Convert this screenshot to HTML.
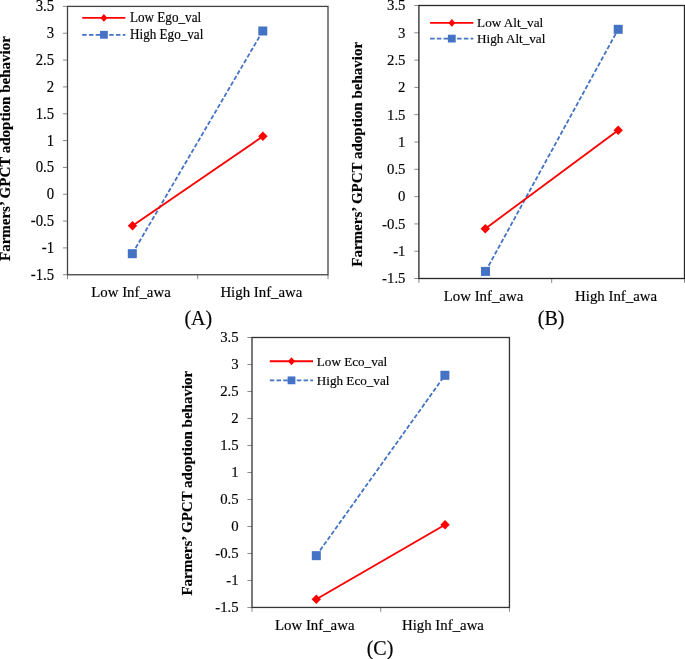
<!DOCTYPE html>
<html lang="en"><head><meta charset="utf-8"><title>Figure</title>
<style>
html,body{margin:0;padding:0;background:#fff;}
body{width:685px;height:659px;overflow:hidden;}
svg{display:block;font-family:"Liberation Serif",serif;fill:#000;}
text{stroke:#000;stroke-width:0.16px;paint-order:stroke fill;}
.t{font-size:15px;}
.x{font-size:14.85px;}
.l{font-size:13.15px;}
.c{font-size:20px;}
.y{font-size:15px;font-weight:bold;}
</style></head><body>
<svg width="685" height="659" viewBox="0 0 685 659">
<rect width="685" height="659" fill="#fff"/>
<g>
<path d="M62.90 6.40H67.50M62.90 33.23H67.50M62.90 60.07H67.50M62.90 86.91H67.50M62.90 113.74H67.50M62.90 140.58H67.50M62.90 167.41H67.50M62.90 194.25H67.50M62.90 221.08H67.50M62.90 247.92H67.50M62.90 274.75H67.50M67.50 274.75V279.15M197.75 274.75V279.15M328.00 274.75V279.15" stroke="#8a8a8a" stroke-width="1" fill="none"/>
<rect x="67.50" y="6.40" width="260.50" height="268.35" fill="none" stroke="#444" stroke-width="1.3"/>
<text class="t" transform="translate(54.10 11.35) scale(0.985 1.055)" text-anchor="end">3.5</text>
<text class="t" transform="translate(54.10 38.19) scale(0.985 1.055)" text-anchor="end">3</text>
<text class="t" transform="translate(54.10 65.02) scale(0.985 1.055)" text-anchor="end">2.5</text>
<text class="t" transform="translate(54.10 91.86) scale(0.985 1.055)" text-anchor="end">2</text>
<text class="t" transform="translate(54.10 118.69) scale(0.985 1.055)" text-anchor="end">1.5</text>
<text class="t" transform="translate(54.10 145.53) scale(0.985 1.055)" text-anchor="end">1</text>
<text class="t" transform="translate(54.10 172.36) scale(0.985 1.055)" text-anchor="end">0.5</text>
<text class="t" transform="translate(54.10 199.19) scale(0.985 1.055)" text-anchor="end">0</text>
<text class="t" transform="translate(54.10 226.03) scale(0.985 1.055)" text-anchor="end">-0.5</text>
<text class="t" transform="translate(54.10 252.87) scale(0.985 1.055)" text-anchor="end">-1</text>
<text class="t" transform="translate(54.10 279.70) scale(0.985 1.055)" text-anchor="end">-1.5</text>
<text class="x" x="131.00" y="296.90" text-anchor="middle">Low Inf_awa</text>
<text class="x" x="261.40" y="296.90" text-anchor="middle">High Inf_awa</text>
<text class="c" x="198.30" y="325.00" text-anchor="middle">(A)</text>
<text class="y" transform="translate(10.10 148.60) rotate(-90)" text-anchor="middle">Farmers’ GPCT adoption behavior</text>
<path d="M132.3 253.7L262.8 31.0" stroke="#4472C4" stroke-width="1.8" stroke-dasharray="4.4 2.1" fill="none"/>
<rect x="127.80" y="249.20" width="9" height="9" fill="#4472C4"/>
<rect x="258.30" y="26.50" width="9" height="9" fill="#4472C4"/>
<path d="M132.5 225.8L262.9 136.3" stroke="#FF0000" stroke-width="1.9" fill="none"/>
<path d="M127.80 225.8L132.5 221.10L137.20 225.8L132.5 230.50Z" fill="#FF0000"/>
<path d="M258.20 136.3L262.9 131.60L267.60 136.3L262.9 141.00Z" fill="#FF0000"/>
<path d="M82.2 17.9H125.40" stroke="#FF0000" stroke-width="1.8" fill="none"/>
<path d="M100.40 17.9L103.90 14.00L107.40 17.9L103.90 21.80Z" fill="#FF0000"/>
<path d="M82.2 34.8H125.40" stroke="#4472C4" stroke-width="1.7" stroke-dasharray="4.5 2.25" fill="none"/>
<rect x="100.00" y="30.90" width="7.8" height="7.8" fill="#4472C4"/>
<text class="l" transform="translate(130.00 21.70) scale(1 1.03)">Low Ego_val</text>
<text class="l" transform="translate(130.00 38.70) scale(1 1.03)">High Ego_val</text>
</g>
<g>
<path d="M414.30 5.50H418.90M414.30 32.80H418.90M414.30 60.10H418.90M414.30 87.40H418.90M414.30 114.70H418.90M414.30 142.00H418.90M414.30 169.30H418.90M414.30 196.60H418.90M414.30 223.90H418.90M414.30 251.20H418.90M414.30 278.50H418.90M418.90 278.50V282.90M551.70 278.50V282.90M684.50 278.50V282.90" stroke="#8a8a8a" stroke-width="1" fill="none"/>
<rect x="418.90" y="5.50" width="265.60" height="273.00" fill="none" stroke="#262626" stroke-width="1.3"/>
<text class="t" transform="translate(405.50 10.30) scale(0.985 1.04)" text-anchor="end">3.5</text>
<text class="t" transform="translate(405.50 37.60) scale(0.985 1.04)" text-anchor="end">3</text>
<text class="t" transform="translate(405.50 64.90) scale(0.985 1.04)" text-anchor="end">2.5</text>
<text class="t" transform="translate(405.50 92.20) scale(0.985 1.04)" text-anchor="end">2</text>
<text class="t" transform="translate(405.50 119.50) scale(0.985 1.04)" text-anchor="end">1.5</text>
<text class="t" transform="translate(405.50 146.80) scale(0.985 1.04)" text-anchor="end">1</text>
<text class="t" transform="translate(405.50 174.10) scale(0.985 1.04)" text-anchor="end">0.5</text>
<text class="t" transform="translate(405.50 201.40) scale(0.985 1.04)" text-anchor="end">0</text>
<text class="t" transform="translate(405.50 228.70) scale(0.985 1.04)" text-anchor="end">-0.5</text>
<text class="t" transform="translate(405.50 256.00) scale(0.985 1.04)" text-anchor="end">-1</text>
<text class="t" transform="translate(405.50 283.30) scale(0.985 1.04)" text-anchor="end">-1.5</text>
<text class="x" x="483.50" y="301.05" text-anchor="middle">Low Inf_awa</text>
<text class="x" x="616.10" y="301.05" text-anchor="middle">High Inf_awa</text>
<text class="c" x="551.10" y="324.60" text-anchor="middle">(B)</text>
<text class="y" transform="translate(361.80 154.30) rotate(-90)" text-anchor="middle">Farmers’ GPCT adoption behavior</text>
<path d="M485.5 271.4L618.2 29.3" stroke="#4472C4" stroke-width="1.8" stroke-dasharray="4.4 2.1" fill="none"/>
<rect x="481.00" y="266.90" width="9" height="9" fill="#4472C4"/>
<rect x="613.70" y="24.80" width="9" height="9" fill="#4472C4"/>
<path d="M485.3 228.7L618.2 130.3" stroke="#FF0000" stroke-width="1.9" fill="none"/>
<path d="M480.60 228.7L485.3 224.00L490.00 228.7L485.3 233.40Z" fill="#FF0000"/>
<path d="M613.50 130.3L618.2 125.60L622.90 130.3L618.2 135.00Z" fill="#FF0000"/>
<path d="M430.1 22.9H473.30" stroke="#FF0000" stroke-width="1.8" fill="none"/>
<path d="M448.30 22.9L451.80 19.00L455.30 22.9L451.80 26.80Z" fill="#FF0000"/>
<path d="M430.1 38.6H473.30" stroke="#4472C4" stroke-width="1.7" stroke-dasharray="4.5 2.25" fill="none"/>
<rect x="447.90" y="34.70" width="7.8" height="7.8" fill="#4472C4"/>
<text class="l" transform="translate(477.10 26.95) scale(1 1)">Low Alt_val</text>
<text class="l" transform="translate(477.10 42.80) scale(1 1)">High Alt_val</text>
</g>
<g>
<path d="M247.40 337.50H252.00M247.40 364.50H252.00M247.40 391.49H252.00M247.40 418.49H252.00M247.40 445.48H252.00M247.40 472.48H252.00M247.40 499.47H252.00M247.40 526.47H252.00M247.40 553.46H252.00M247.40 580.46H252.00M247.40 607.45H252.00M252.00 607.45V611.85M380.73 607.45V611.85M509.45 607.45V611.85" stroke="#8a8a8a" stroke-width="1" fill="none"/>
<rect x="252.00" y="337.50" width="257.45" height="269.95" fill="none" stroke="#333" stroke-width="1.3"/>
<text class="t" transform="translate(238.60 342.25) scale(0.985 1.02)" text-anchor="end">3.5</text>
<text class="t" transform="translate(238.60 369.25) scale(0.985 1.02)" text-anchor="end">3</text>
<text class="t" transform="translate(238.60 396.24) scale(0.985 1.02)" text-anchor="end">2.5</text>
<text class="t" transform="translate(238.60 423.24) scale(0.985 1.02)" text-anchor="end">2</text>
<text class="t" transform="translate(238.60 450.23) scale(0.985 1.02)" text-anchor="end">1.5</text>
<text class="t" transform="translate(238.60 477.23) scale(0.985 1.02)" text-anchor="end">1</text>
<text class="t" transform="translate(238.60 504.22) scale(0.985 1.02)" text-anchor="end">0.5</text>
<text class="t" transform="translate(238.60 531.22) scale(0.985 1.02)" text-anchor="end">0</text>
<text class="t" transform="translate(238.60 558.21) scale(0.985 1.02)" text-anchor="end">-0.5</text>
<text class="t" transform="translate(238.60 585.21) scale(0.985 1.02)" text-anchor="end">-1</text>
<text class="t" transform="translate(238.60 612.20) scale(0.985 1.02)" text-anchor="end">-1.5</text>
<text class="x" x="314.75" y="629.95" text-anchor="middle">Low Inf_awa</text>
<text class="x" x="442.95" y="629.95" text-anchor="middle">High Inf_awa</text>
<text class="c" x="380.00" y="654.50" text-anchor="middle">(C)</text>
<text class="y" transform="translate(192.20 483.20) rotate(-90)" text-anchor="middle">Farmers’ GPCT adoption behavior</text>
<path d="M316.3 555.65L444.9 375.3" stroke="#4472C4" stroke-width="1.8" stroke-dasharray="4.4 2.1" fill="none"/>
<rect x="311.80" y="551.15" width="9" height="9" fill="#4472C4"/>
<rect x="440.40" y="370.80" width="9" height="9" fill="#4472C4"/>
<path d="M316.3 599.2L445.05 524.8" stroke="#FF0000" stroke-width="1.9" fill="none"/>
<path d="M311.60 599.2L316.3 594.50L321.00 599.2L316.3 603.90Z" fill="#FF0000"/>
<path d="M440.35 524.8L445.05 520.10L449.75 524.8L445.05 529.50Z" fill="#FF0000"/>
<path d="M269.8 361.25H313.00" stroke="#FF0000" stroke-width="1.8" fill="none"/>
<path d="M288.00 361.25L291.50 357.35L295.00 361.25L291.50 365.15Z" fill="#FF0000"/>
<path d="M269.8 380.35H313.00" stroke="#4472C4" stroke-width="1.7" stroke-dasharray="4.5 2.25" fill="none"/>
<rect x="287.60" y="376.45" width="7.8" height="7.8" fill="#4472C4"/>
<text class="l" transform="translate(316.80 365.80) scale(1 1)">Low Eco_val</text>
<text class="l" transform="translate(316.80 384.85) scale(1 1)">High Eco_val</text>
</g>
</svg></body></html>
